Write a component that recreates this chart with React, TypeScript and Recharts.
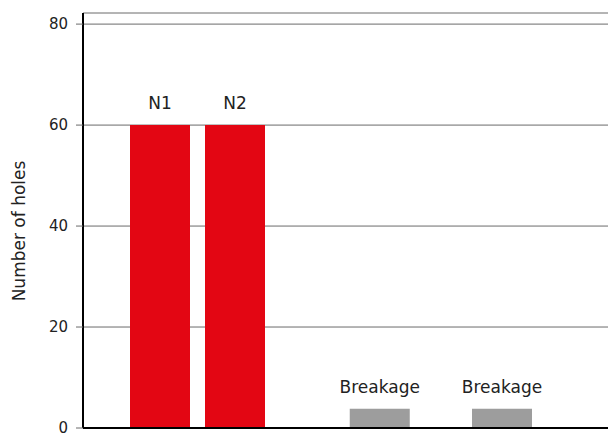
import { BarChart, Bar, XAxis, YAxis, CartesianGrid, Cell, LabelList, Label } from 'recharts';

const labels = ['N1', 'N2', 'Breakage', 'Breakage'];
// bar centres along the horizontal axis (irregular spacing, as in the reference)
const positions = [1.02, 2.02, 3.95, 5.58];
const holes = [60, 60, 3.8, 3.8];
const barColors = ['#e30613', '#e30613', '#9d9d9d', '#9d9d9d'];
const yTicks = [0, 20, 40, 60, 80];

const data = labels.map((label, i) => ({ label, pos: positions[i], holes: holes[i] }));

const FONT = '"DejaVu Sans", sans-serif';

export default function App() {
  return (
    <div style={{ position: 'absolute', left: 0, top: 0, fontFamily: FONT }}>
      <BarChart width={608} height={433} data={data} margin={{ top: 13, right: 0, bottom: 0, left: 0 }}>
        <CartesianGrid vertical={false} stroke="#6a6a6a" strokeWidth={1} />
        <XAxis
          type="number"
          dataKey="pos"
          domain={[0, 7]}
          tick={false}
          tickLine={false}
          height={5}
          axisLine={{ stroke: '#000', strokeWidth: 2 }}
        />
        <YAxis
          domain={[0, 82.2]}
          ticks={yTicks}
          interval={0}
          width={83}
          tickSize={7}
          tickMargin={8}
          tickLine={{ stroke: '#6a6a6a' }}
          axisLine={{ stroke: '#000', strokeWidth: 2 }}
          tick={{ fill: '#222', fontSize: 15, fontFamily: FONT }}
        >
          <Label
            content={() => (
              <text
                x={19}
                y={231}
                transform="rotate(-90 19 231)"
                textAnchor="middle"
                dominantBaseline="central"
                fill="#222"
                fontSize={17}
                fontFamily={FONT}
              >
                Number of holes
              </text>
            )}
          />
        </YAxis>
        <Bar dataKey="holes" barSize={60} isAnimationActive={false}>
          {data.map((_, i) => (
            <Cell key={`cell-${i}`} fill={barColors[i]} />
          ))}
          <LabelList dataKey="label" position="top" offset={16} fill="#222" fontSize={17} fontFamily={FONT} />
        </Bar>
      </BarChart>
    </div>
  );
}
